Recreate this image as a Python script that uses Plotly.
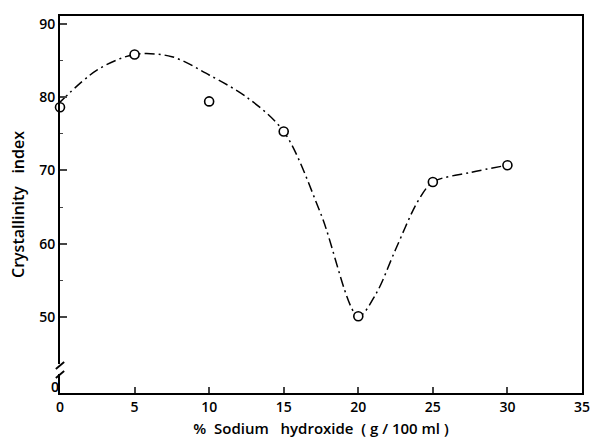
import plotly.graph_objects as go

# measured points
naoh = [0, 5, 10, 15, 20, 25, 30]
crystallinity = [78.6, 85.8, 79.4, 75.3, 50.1, 68.4, 70.7]

# hand-drawn trend curve
curve_x = [0, 2.5, 5, 7.5, 10, 12.5, 15, 17.5, 20, 21.2, 22.5, 24, 25, 27.5, 30]
curve_y = [79.3, 83.7, 85.8, 85.5, 83.0, 80.0, 75.3, 64.0, 50.1, 53.2, 59.2, 65.8, 68.4, 69.7, 70.7]

x_ticks = [0, 5, 10, 15, 20, 25, 30, 35]
y_ticks = [50, 60, 70, 80, 90]

FONT = "Open Sans"
W, H = 597, 444
ML, MR, MT, MB = 60, 7, 16, 51
PH = H - MT - MB

# linear scale matched to the 50..80 ticks (50 at px 317, 80 at px 97)
pxu = (317 - 97) / 30
y_low = 50 - (H - MB - 317) / pxu
y_high = 80 + (97 - MT) / pxu

fig = go.Figure()
fig.add_trace(go.Scatter(
    x=curve_x, y=curve_y, mode="lines",
    line=dict(color="black", width=1.5, dash="10px,4px,2px,4px", shape="spline", smoothing=0.9),
    hoverinfo="skip", showlegend=False))
fig.add_trace(go.Scatter(
    x=naoh, y=crystallinity, mode="markers",
    marker=dict(symbol="circle", size=9, color="white", line=dict(color="black", width=1.6)),
    showlegend=False, cliponaxis=False))
# dummy trace for the broken-axis "0" label
fig.add_trace(go.Scatter(x=[None], y=[None], yaxis="y2", showlegend=False))

def py(pix):
    return (H - MB - pix) / PH

shapes = [
    dict(type="rect", xref="paper", yref="paper", x0=-0.006, x1=0.006, y0=py(374), y1=py(364),
         fillcolor="white", line=dict(width=0), layer="above"),
    dict(type="line", xref="paper", yref="paper", x0=-0.008, x1=0.008, y0=py(369), y1=py(362),
         line=dict(color="black", width=1.8)),
    dict(type="line", xref="paper", yref="paper", x0=-0.008, x1=0.008, y0=py(378), y1=py(371),
         line=dict(color="black", width=1.8)),
]

tf = dict(family=FONT, size=14, color="black", weight=600)

fig.update_layout(
    width=W, height=H,
    margin=dict(l=ML, r=MR, t=MT, b=MB),
    paper_bgcolor="white", plot_bgcolor="white",
    font=dict(family=FONT, size=14, color="black"),
    shapes=shapes,
    xaxis=dict(
        range=[0, 35], tickvals=x_ticks, ticks="inside", ticklen=6, tickwidth=1.5,
        showline=True, linecolor="black", linewidth=2, mirror=True, showgrid=False, zeroline=False,
        title=dict(text="%  Sodium   hydroxide  ( g / 100 ml )", font=dict(family=FONT, size=15, weight=600), standoff=9),
        tickfont=tf,
    ),
    yaxis=dict(
        range=[y_low, y_high], tickvals=y_ticks, ticks="inside", ticklen=7, tickwidth=1.5,
        minor=dict(tickvals=[55, 65, 75, 85], ticks="inside", ticklen=3, tickwidth=1),
        showline=True, linecolor="black", linewidth=2, mirror=True, showgrid=False, zeroline=False,
        title=dict(text="Crystallinity   index", font=dict(family=FONT, size=16, weight=600), standoff=11),
        tickfont=tf,
    ),
    yaxis2=dict(
        overlaying="y", side="left", range=[-0.15, 10], tickvals=[0], ticktext=["0"],
        ticks="", showline=False, showgrid=False, zeroline=False, tickfont=tf,
    ),
)

fig.write_html("out.html")
